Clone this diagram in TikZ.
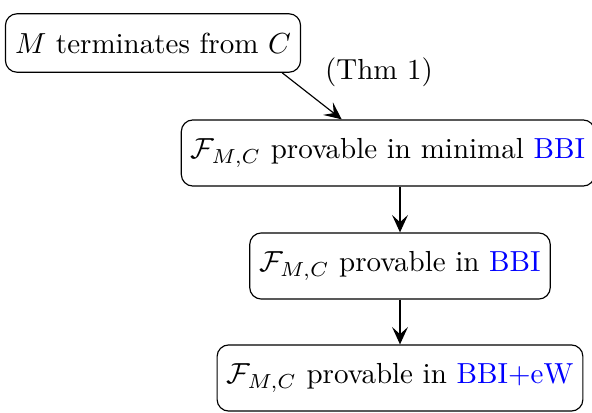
\documentclass[tikz,border=0pt]{standalone}
\usepackage{amsmath,amssymb}
\usepackage{xcolor}
\usetikzlibrary{arrows.meta,positioning}

\begin{document}
\begin{tikzpicture}[>={Stealth[length=6pt,width=5.5pt,inset=2.5pt]}, x=0.3448pt, y=-0.3448pt]
\tikzset{
  st/.style={draw, rounded corners=4pt, align=center, inner xsep=3.3pt, inner ysep=6.5pt}
}
\useasboundingbox (0,0) rectangle (592,413);
\node[st] (term) at (153,43) {$M$ terminates from $C$};
\node[st] (minbbi) at (388,153) {$\mathcal{F}_{M,C}$ provable in minimal \textcolor{blue}{BBI}};
\node[st] (bbi) at (400,266) {$\mathcal{F}_{M,C}$ provable in \textcolor{blue}{BBI}};
\node[st] (bbiew) at (400,378) {$\mathcal{F}_{M,C}$ provable in \textcolor{blue}{BBI+eW}};
\node (thm) at (379,72) {(Thm 1)};
\draw[->] (term.-13) -- (minbbi.144);
\draw[->] (minbbi.south -| bbi.north) -- (bbi.north);
\draw[->] (bbi) -- (bbiew);
\end{tikzpicture}
\end{document}
